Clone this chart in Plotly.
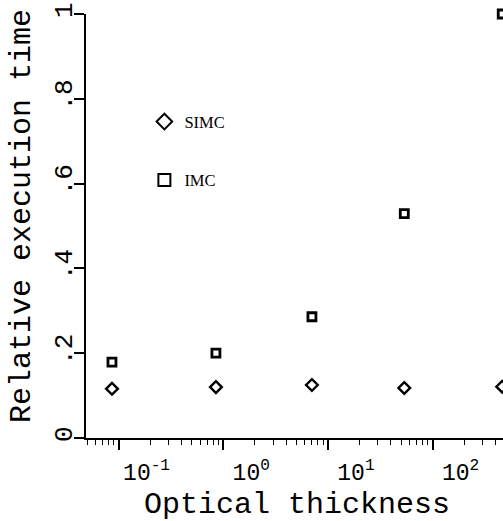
import plotly.graph_objects as go
import numpy as np

# Data
thickness = [0.0865, 0.851, 7.03, 53.6, 462]
simc_time = [0.116, 0.120, 0.125, 0.118, 0.121]
imc_time = [0.179, 0.200, 0.286, 0.529, 1.0]

x_tick_vals = [0.1, 1, 10, 100]
x_tick_text = ["10<sup>-1</sup>", "10<sup>0</sup>", "10<sup>1</sup>", "10<sup>2</sup>"]
y_tick_vals = [0, 0.2, 0.4, 0.6, 0.8, 1.0]
y_tick_text = ["0", ".2", ".4", ".6", ".8", "1"]

minor_vals = [m * 10.0 ** e for e in range(-2, 3) for m in range(2, 10)]

W, H = 503, 521
ml, mr, mt, mb = 86, 0, 14, 83
MONO = "Liberation Mono"

fig = go.Figure()
fig.add_trace(go.Scatter(
    x=thickness, y=simc_time, mode="markers", name="SIMC", legendgroup="a",
    marker=dict(symbol="diamond-open", size=9, color="black", line=dict(width=2.4, color="black")),
    cliponaxis=False,
))
fig.add_trace(go.Scatter(
    x=thickness, y=imc_time, mode="markers", name="IMC", legendgroup="b",
    marker=dict(symbol="square-open", size=8, color="black", line=dict(width=2.8, color="black")),
    cliponaxis=False,
))

fig.update_layout(
    width=W, height=H,
    margin=dict(l=ml, r=mr, t=mt, b=mb, pad=0),
    paper_bgcolor="white", plot_bgcolor="white",
    font=dict(family=MONO, color="black"),
    showlegend=True,
    legend=dict(x=0.14, y=0.787, xanchor="left", yanchor="top",
                font=dict(family="Liberation Serif", size=16.5, color="black"),
                tracegroupgap=34, itemsizing="constant", bgcolor="rgba(0,0,0,0)"),
    xaxis=dict(
        type="log", range=[-1.311, 2.672],
        showgrid=False, zeroline=False,
        showline=True, linecolor="black", linewidth=2,
        ticks="outside", ticklen=10, tickwidth=1.6, tickcolor="black",
        tickmode="array", tickvals=x_tick_vals, ticktext=x_tick_text,
        tickfont=dict(family=MONO, size=23, color="black"),
        ticklabelshift=28, ticklabelstandoff=2,
        minor=dict(ticks="outside", ticklen=5, tickwidth=1.3, tickcolor="black",
                   tickmode="array", tickvals=minor_vals),
    ),
    yaxis=dict(
        range=[0, 1],
        showgrid=False, zeroline=False,
        showline=True, linecolor="black", linewidth=2,
        ticks="outside", ticklen=10, tickwidth=1.6, tickcolor="black",
        tickmode="array", tickvals=y_tick_vals, ticktext=y_tick_text,
        tickangle=-90, ticklabelstandoff=-8,
        tickfont=dict(family=MONO, size=26, color="black"),
    ),
    annotations=[
        dict(text="Optical thickness", xref="paper", yref="paper",
             x=(297 - ml) / (W - ml - mr), y=(438 - 505) / (521 - mt - mb),
             xanchor="center", yanchor="middle", showarrow=False,
             font=dict(family=MONO, size=30, color="black")),
        dict(text="Relative execution time", xref="paper", yref="paper",
             x=(22 - ml) / (W - ml - mr), y=(438 - 216) / (521 - mt - mb),
             xanchor="center", yanchor="middle", textangle=-90, showarrow=False,
             font=dict(family=MONO, size=30, color="black")),
    ],
)

fig.write_html("out.html")
